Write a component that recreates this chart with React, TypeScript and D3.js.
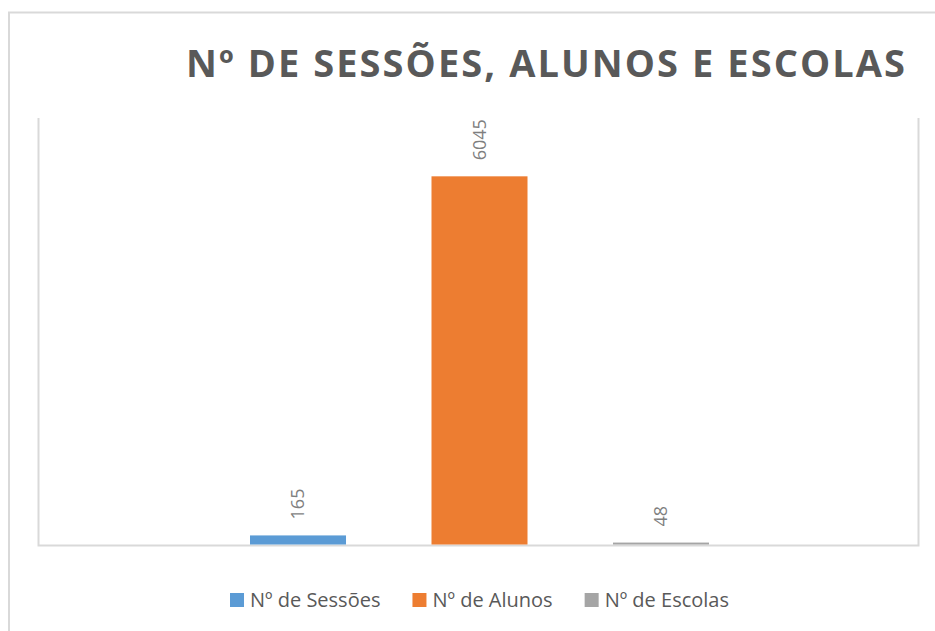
import React, { useEffect, useRef } from "react";
import * as d3 from "d3";

const seriesNames = ["Nº de Sessões", "Nº de Alunos", "Nº de Escolas"];
const seriesValues = [165, 6045, 48];
const seriesColors = ["#5b9bd5", "#ed7d31", "#a5a5a5"];
const titleText = "Nº DE SESSÕES, ALUNOS E ESCOLAS";

const W = 935;
const H = 631;

export default function App() {
  const ref = useRef<SVGSVGElement | null>(null);

  useEffect(() => {
    const svg = d3.select(ref.current);
    svg.selectAll("*").remove();

    const font = "'Open Sans', 'Liberation Sans', sans-serif";

    // outer chart border (extends past the frame)
    svg.append("rect")
      .attr("x", 9).attr("y", 12.5)
      .attr("width", 960).attr("height", 660)
      .attr("fill", "#fff")
      .attr("stroke", "#d9d9d9").attr("stroke-width", 2);

    const plot = { left: 38.5, right: 918.5, top: 118, bottom: 545.5 };

    const y = d3.scaleLinear().domain([0, 7000]).range([plot.bottom, plot.top]);
    const x = d3.scaleBand<string>()
      .domain(seriesNames)
      .range([250, 709])
      .paddingInner(0.471)
      .paddingOuter(0);

    // plot area lines (left, right, bottom)
    const g = svg.append("g");
    g.append("path")
      .attr("d", `M${plot.left},${plot.top}V${plot.bottom}H${plot.right}V${plot.top}`)
      .attr("fill", "none")
      .attr("stroke", "#d9d9d9").attr("stroke-width", 2);

    // bars
    g.selectAll("rect.bar")
      .data(seriesValues)
      .enter().append("rect")
      .attr("class", "bar")
      .attr("x", (_, i) => x(seriesNames[i])!)
      .attr("width", x.bandwidth())
      .attr("y", (d) => y(d))
      .attr("height", (d) => plot.bottom - 1 - y(d))
      .attr("fill", (_, i) => seriesColors[i]);

    // data labels
    g.selectAll("text.lbl")
      .data(seriesValues)
      .enter().append("text")
      .attr("class", "lbl")
      .attr("transform", (d, i) => `translate(${x(seriesNames[i])! + x.bandwidth() / 2},${y(d) - 16}) rotate(-90)`)
      .attr("dy", "0.35em")
      .attr("text-anchor", "start")
      .attr("font-family", font)
      .attr("font-size", 18)
      .attr("fill", "#7f7f7f")
      .text((d) => String(d));

    // title
    svg.append("text")
      .attr("x", 186).attr("y", 77)
      .attr("font-family", font)
      .attr("font-weight", "bold")
      .attr("font-size", 38)
      .attr("fill", "#595959")
      .attr("textLength", 719)
      .attr("lengthAdjust", "spacing")
      .text(titleText);

    // legend
    const lg = svg.append("g");
    const sq = 14, gapSq = 6, gapItem = 32;
    const items = lg.selectAll("g.item")
      .data(seriesNames)
      .enter().append("g").attr("class", "item");
    items.append("rect")
      .attr("width", sq).attr("height", sq)
      .attr("y", 593)
      .attr("fill", (_, i) => seriesColors[i]);
    const texts = items.append("text")
      .attr("y", 607)
      .attr("font-family", font)
      .attr("font-size", 20)
      .attr("fill", "#595959")
      .text((d) => d);
    const widths: number[] = [];
    texts.each(function () {
      widths.push((this as SVGTextElement).getComputedTextLength());
    });
    const total = widths.reduce((a, w) => a + sq + gapSq + w, 0) + gapItem * (widths.length - 1);
    let cx = 479.5 - total / 2;
    items.each(function (_, i) {
      const it = d3.select(this);
      it.select("rect").attr("x", cx);
      it.select("text").attr("x", cx + sq + gapSq);
      cx += sq + gapSq + widths[i] + gapItem;
    });
  }, []);

  return (
    <div style={{ position: "fixed", left: 0, top: 0 }}>
      <svg ref={ref} width={W} height={H} style={{ display: "block", background: "#fff" }} />
    </div>
  );
}
